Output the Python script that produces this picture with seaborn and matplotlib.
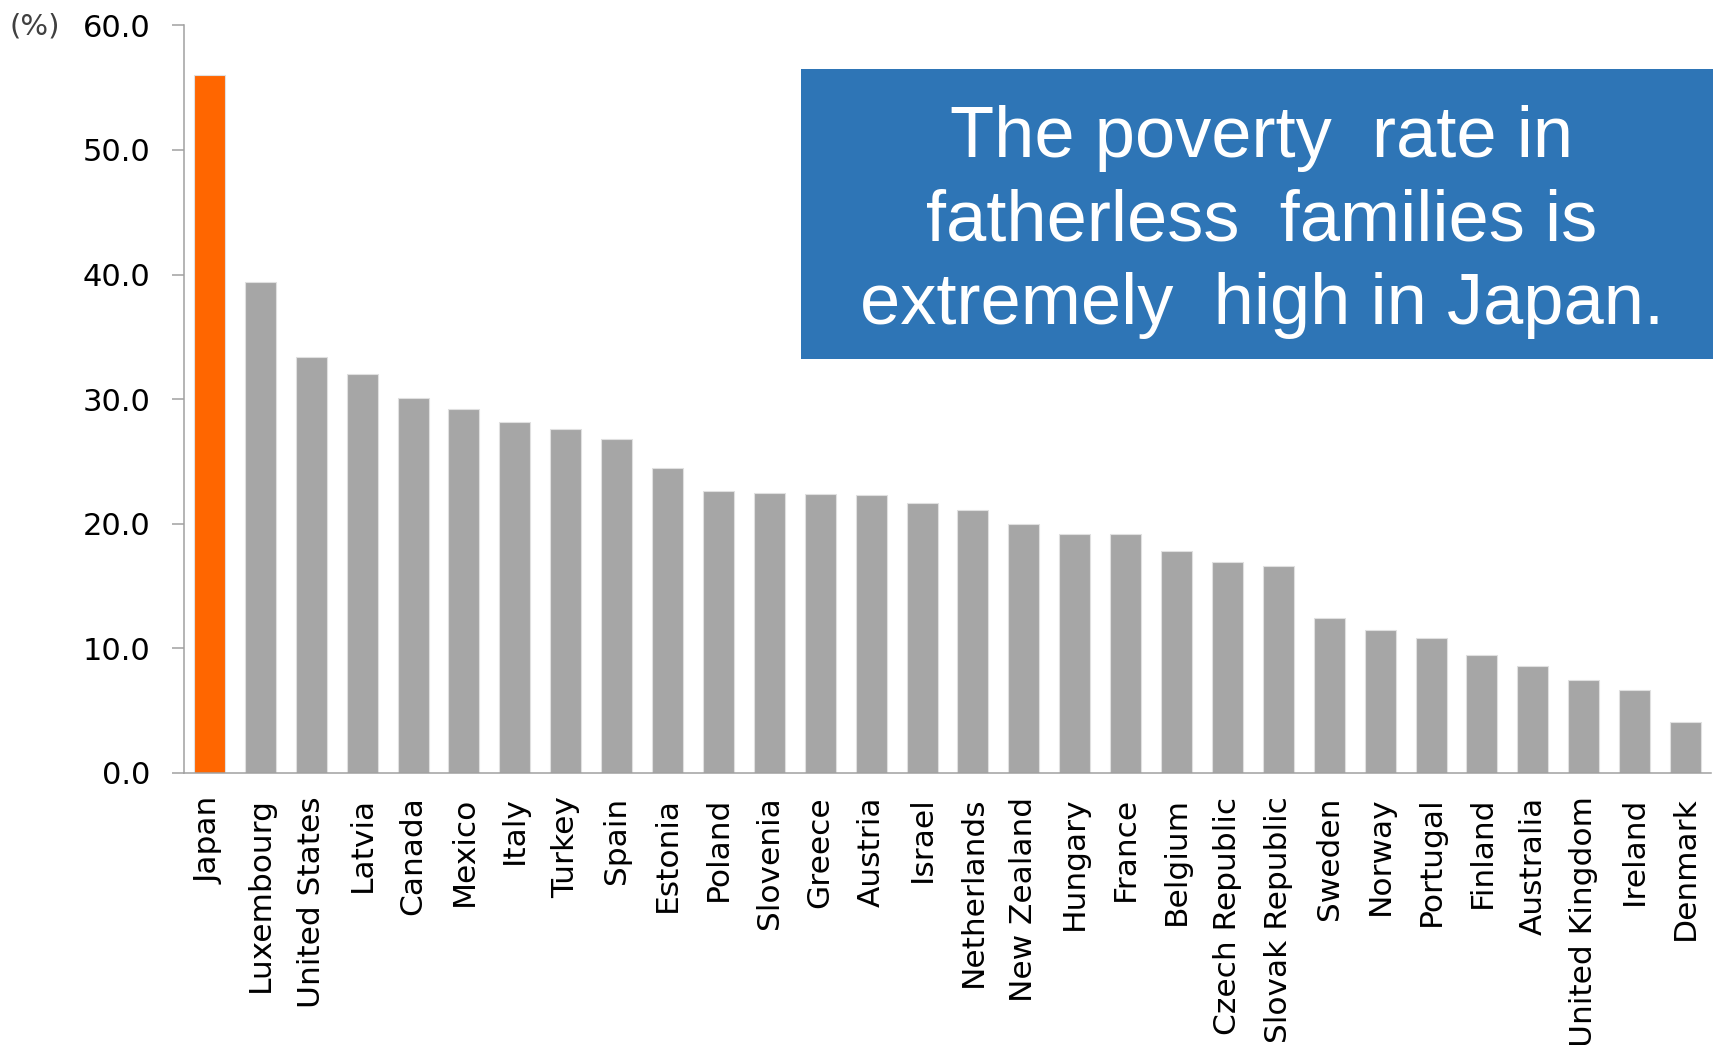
import matplotlib
matplotlib.use("Agg")
import matplotlib.pyplot as plt
from matplotlib.patches import Rectangle
import seaborn as sns
import numpy as np

# Poverty rate of single-mother households by country (%)
countries = [
    "Japan", "Luxembourg", "United States", "Latvia", "Canada", "Mexico",
    "Italy", "Turkey", "Spain", "Estonia", "Poland", "Slovenia", "Greece",
    "Austria", "Israel", "Netherlands", "New Zealand", "Hungary", "France",
    "Belgium", "Czech Republic", "Slovak Republic", "Sweden", "Norway",
    "Portugal", "Finland", "Australia", "United Kingdom", "Ireland", "Denmark",
]
rates = [
    56.0, 39.4, 33.4, 32.0, 30.1, 29.2,
    28.2, 27.6, 26.8, 24.5, 22.6, 22.5, 22.4,
    22.3, 21.7, 21.1, 20.0, 19.2, 19.2,
    17.8, 16.9, 16.6, 12.4, 11.5,
    10.8, 9.5, 8.6, 7.5, 6.7, 4.1,
]
highlight = "Japan"
yticks = [0, 10, 20, 30, 40, 50, 60]
headline = "The poverty  rate in\nfatherless  families is\nextremely  high in Japan."

ORANGE = "#ff6600"
GREY = "#a6a6a6"
AXIS = "#a0a0a0"

sns.set_theme(style="white")
plt.rcParams["font.family"] = ["DejaVu Sans"]

fig = plt.figure(figsize=(17.13, 10.45), dpi=100)
ax = fig.add_axes([184 / 1713, 1 - 773 / 1045, (1711 - 184) / 1713, (773 - 25.3) / 1045])

palette = {c: (ORANGE if c == highlight else GREY) for c in countries}
sns.barplot(x=countries, y=rates, hue=countries, palette=palette, legend=False,
            width=0.61, saturation=1, ax=ax, edgecolor="#e0e0e0", linewidth=0.8)

ax.set_xlim(-0.5, len(countries) - 0.5)
ax.set_ylim(0, 60)
ax.set_yticks(yticks)
ax.set_yticklabels([f"{v:.1f}" for v in yticks], fontsize=22, color="black")

# category labels, with tick marks placed on the category boundaries
ax.set_xticks(np.arange(len(countries)))
ax.set_xticklabels(countries, rotation=90, fontsize=22.5, color="black")
ax.set_xticks(np.arange(len(countries) + 1) - 0.5, minor=True)
ax.tick_params(axis="x", which="major", length=0, pad=17)
ax.tick_params(axis="x", which="minor", length=9, width=1.1, color=AXIS, direction="out")
ax.tick_params(axis="y", which="major", length=9, width=1.1, color=AXIS,
               direction="out", pad=15, left=True)

for side in ("top", "right"):
    ax.spines[side].set_visible(False)
for side in ("left", "bottom"):
    ax.spines[side].set_color(AXIS)
    ax.spines[side].set_linewidth(1.1)
ax.set_xlabel("")
ax.set_ylabel("")
ax.grid(False)

# unit label
fig.text(10 / 1713, 1 - 26 / 1045, "(%)", fontsize=21, color="#404040",
         family=["DejaVu Sans"], ha="left", va="center")

# headline box
fig.patches.append(Rectangle((801 / 1713, 1 - 359 / 1045), (1713 - 801) / 1713,
                             (359 - 69) / 1045, transform=fig.transFigure,
                             facecolor="#2e75b6", edgecolor="none", zorder=5))
fig.text(1262 / 1713, 1 - 222 / 1045, headline, fontsize=52, color="white",
         family=["Liberation Sans", "DejaVu Sans"], ha="center", va="center",
         multialignment="center", linespacing=1.32, zorder=6)

fig.savefig("out.png", dpi=100)
